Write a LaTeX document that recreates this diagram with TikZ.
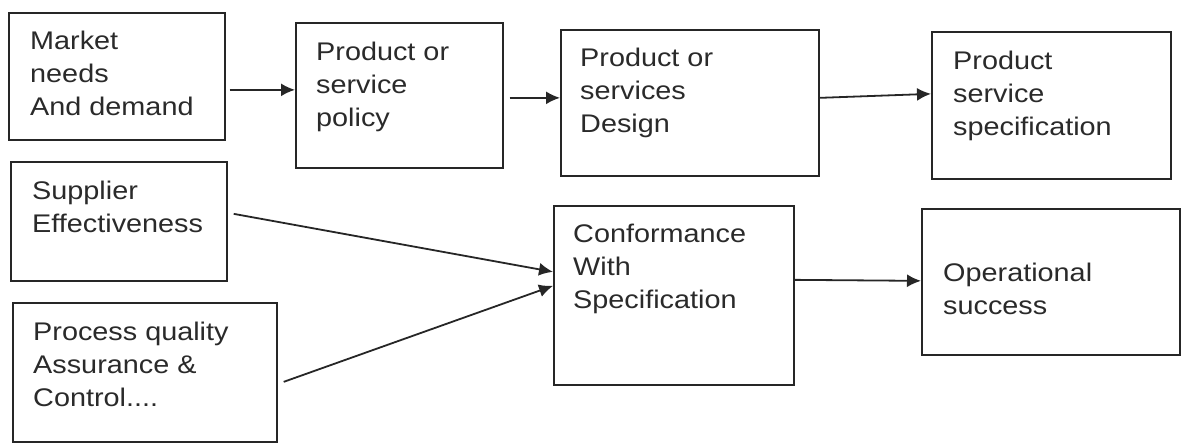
\documentclass[tikz,border=0pt]{standalone}
\usepackage{fontspec}
\setmainfont{Liberation Sans}[FakeStretch=1.13]
\usetikzlibrary{arrows.meta}
\definecolor{ink}{HTML}{262626}
\definecolor{txt}{HTML}{2A2A2A}
\tikzset{
  box/.style={draw=ink, line width=1.7pt, inner sep=0pt, anchor=north west},
  % texts are placed by the baseline of their last line
  lbl/.style={anchor=base west, inner sep=0pt, align=left, text=txt,
              font=\fontsize{25.5pt}{33pt}\selectfont},
  arr/.style={draw=ink, line width=1.8pt, -{Latex[length=14pt,width=13pt]}}
}
% place a framed box by its corners: left, top, right, bottom
\newcommand{\boxat}[5]{%
  \node[box, minimum width={#4-#2}, minimum height={#5-#3}] (#1) at (#2,#3) {};}
\begin{document}
\begin{tikzpicture}[x=1pt, y=-1pt]
  \useasboundingbox (0,0) rectangle (1181,442);
  % boxes
  \boxat{mkt}{8}{12}{224}{139}
  \boxat{pol}{295}{22}{502}{167}
  \boxat{des}{560}{29}{818}{175}
  \boxat{spc}{931}{31}{1170}{178}
  \boxat{sup}{10}{161}{226}{280}
  \boxat{prc}{12}{302}{276}{441}
  \boxat{cnf}{553}{205}{793}{384}
  \boxat{ops}{921}{208}{1179}{354}
  % texts
  \node[lbl] (tmkt) at (30,115)  {Market\\needs\\And demand};
  \node[lbl] (tpol) at (316,126) {Product or\\service\\policy};
  \node[lbl] (tdes) at (580,132) {Product or\\services\\Design};
  \node[lbl] (tspc) at (953,135) {Product\\service\\specification};
  \node[lbl] (tsup) at (32,232)  {Supplier\\Effectiveness};
  \node[lbl] (tprc) at (33,406)  {Process quality\\Assurance \&\\Control....};
  \node[lbl] (tcnf) at (573,308) {Conformance\\With\\Specification};
  \node[lbl] (tops) at (943,314) {Operational\\success};
  % connectors
  \draw[arr] ([xshift=4pt,yshift=-13.5pt]mkt.east) -- ([yshift=5.5pt]pol.west);
  \draw[arr] ([xshift=6pt,yshift=-2.5pt]pol.east) -- ([yshift=5pt]des.west);
  \draw[arr] ([yshift=5pt]des.east) -- ([yshift=11.5pt]spc.west);
  \draw[arr] ([xshift=6pt,yshift=7.5pt]sup.east) -- ([yshift=23.5pt]cnf.west);
  \draw[arr] ([xshift=6pt,yshift=-9.5pt]prc.east) -- ([yshift=9.5pt]cnf.west);
  \draw[arr] ([yshift=15.5pt]cnf.east) -- ([yshift=1pt]ops.west);
\end{tikzpicture}
\end{document}
